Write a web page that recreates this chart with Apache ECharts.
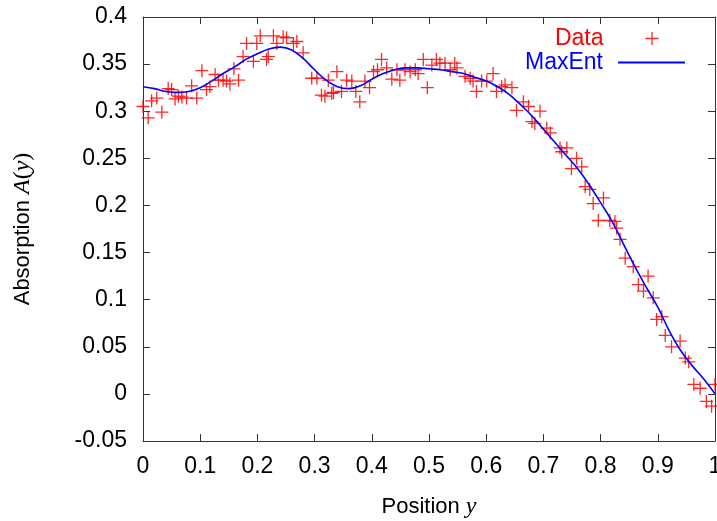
<!DOCTYPE html>
<html><head><meta charset="utf-8">
<script src="https://cdn.jsdelivr.net/npm/echarts@6/dist/echarts.min.js"></script>
<style>html,body{margin:0;padding:0;background:#fff}#c{width:717px;height:521px}</style>
</head><body><div id="c"></div>
<script>
// Measured data points (position y, absorption A)
const dataX = [0.000,0.009,0.015,0.024,0.033,0.044,0.050,0.056,0.062,0.068,0.076,0.085,0.094,0.103,0.111,0.117,0.126,0.132,0.140,0.146,0.152,0.159,0.167,0.175,0.181,0.193,0.199,0.205,0.216,0.219,0.228,0.234,0.245,0.251,0.263,0.269,0.280,0.295,0.304,0.312,0.318,0.324,0.330,0.333,0.339,0.347,0.356,0.365,0.372,0.379,0.388,0.396,0.403,0.410,0.417,0.426,0.435,0.444,0.449,0.458,0.467,0.476,0.481,0.490,0.497,0.505,0.513,0.519,0.528,0.537,0.545,0.549,0.563,0.572,0.577,0.583,0.592,0.601,0.612,0.618,0.627,0.633,0.645,0.653,0.665,0.674,0.680,0.685,0.694,0.706,0.712,0.729,0.732,0.741,0.749,0.758,0.767,0.773,0.781,0.787,0.796,0.805,0.816,0.825,0.828,0.834,0.843,0.857,0.866,0.875,0.883,0.892,0.898,0.907,0.913,0.924,0.939,0.948,0.954,0.963,0.974,0.985,0.994,1.000];
const dataY = [0.305,0.293,0.311,0.314,0.299,0.324,0.323,0.313,0.316,0.315,0.314,0.327,0.314,0.343,0.323,0.326,0.339,0.333,0.333,0.332,0.329,0.345,0.333,0.358,0.372,0.353,0.372,0.380,0.355,0.358,0.380,0.372,0.379,0.378,0.372,0.374,0.362,0.335,0.335,0.317,0.316,0.333,0.319,0.320,0.342,0.321,0.333,0.332,0.321,0.310,0.332,0.325,0.342,0.344,0.355,0.346,0.334,0.344,0.333,0.344,0.342,0.344,0.340,0.355,0.325,0.349,0.355,0.351,0.351,0.344,0.351,0.346,0.337,0.335,0.332,0.321,0.332,0.332,0.340,0.321,0.326,0.328,0.325,0.301,0.310,0.305,0.289,0.287,0.300,0.282,0.277,0.261,0.257,0.261,0.239,0.250,0.241,0.220,0.217,0.202,0.184,0.208,0.184,0.183,0.176,0.164,0.144,0.135,0.116,0.109,0.125,0.102,0.079,0.082,0.062,0.050,0.056,0.038,0.034,0.010,0.006,-0.008,-0.013,0.010];
// MaxEnt reconstruction curve
const fitX = [0,0.02,0.04,0.06,0.08,0.10,0.12,0.14,0.16,0.18,0.20,0.22,0.24,0.26,0.28,0.30,0.32,0.34,0.36,0.38,0.40,0.42,0.44,0.46,0.48,0.50,0.52,0.54,0.56,0.58,0.60,0.62,0.64,0.66,0.68,0.70,0.72,0.74,0.76,0.78,0.80,0.82,0.84,0.86,0.88,0.90,0.92,0.94,0.96,0.98,1.00];
const fitY = [0.326,0.324,0.321,0.320,0.321,0.325,0.332,0.340,0.347,0.355,0.361,0.366,0.368,0.365,0.356,0.344,0.333,0.326,0.324,0.327,0.334,0.340,0.344,0.346,0.346,0.345,0.344,0.342,0.340,0.336,0.332,0.326,0.318,0.307,0.295,0.281,0.267,0.253,0.239,0.222,0.203,0.183,0.159,0.135,0.113,0.092,0.067,0.046,0.030,0.016,0.000];
const xTicks = [0,0.1,0.2,0.3,0.4,0.5,0.6,0.7,0.8,0.9,1];
const yTicks = [-0.05,0,0.05,0.1,0.15,0.2,0.25,0.3,0.35,0.4];

const FONT = 'Liberation Sans';
const axisCol = '#333';
const plus = 'path://M4.5,0h1v4.5h4.5v1h-4.5v4.5h-1v-4.5h-4.5v-1h4.5z';
const fmt = v => String(+v.toFixed(2));

const chart = echarts.init(document.getElementById('c'));
const xBase = {type:'value', min:xTicks[0], max:xTicks[xTicks.length-1], interval:0.1, splitLine:{show:false},
  axisLine:{show:true,onZero:false,lineStyle:{color:axisCol,width:1}}, axisTick:{inside:true,length:7,lineStyle:{color:axisCol}}};
const yBase = {type:'value', min:yTicks[0], max:yTicks[yTicks.length-1], interval:0.05, splitLine:{show:false},
  axisLine:{show:true,onZero:false,lineStyle:{color:axisCol,width:1}}, axisTick:{inside:true,length:7,lineStyle:{color:axisCol}}};
chart.setOption({
  animation:false,
  backgroundColor:'#fff',
  grid:{left:143,right:2,top:17,bottom:80,containLabel:false,outerBoundsMode:'none'},
  xAxis:[
    Object.assign({}, xBase, {position:'bottom',
      axisLabel:{margin:14,fontSize:23,color:'#000',fontFamily:FONT,formatter:fmt},
      name:'Position {i|y}', nameLocation:'middle', nameGap:54,
      nameTextStyle:{fontSize:22,color:'#000',fontFamily:FONT,
        rich:{i:{fontSize:24,fontStyle:'italic',fontFamily:'Liberation Serif',color:'#000'}}}}),
    Object.assign({}, xBase, {position:'top', axisLabel:{show:false}})
  ],
  yAxis:[
    Object.assign({}, yBase, {position:'left',
      axisLabel:{margin:16,fontSize:23,color:'#000',fontFamily:FONT,formatter:fmt},
      name:'Absorption {i|A}{p|(}{i|y}{p|)}', nameLocation:'middle', nameGap:108, nameRotate:90,
      nameTextStyle:{fontSize:22,color:'#000',fontFamily:FONT,
        rich:{i:{fontSize:24,fontStyle:'italic',fontFamily:'Liberation Serif',color:'#000'},
              p:{fontSize:24,fontFamily:'Liberation Serif',color:'#000'}}}}),
    Object.assign({}, yBase, {position:'right', axisLabel:{show:false}})
  ],
  legend:[
    {data:[{name:'Data', icon:plus}], right:53.5, top:22, align:'right', itemWidth:13, itemHeight:13,
     textStyle:{fontSize:23,color:'#ff0000',fontFamily:FONT,padding:[0,37,0,0]}},
    {data:[{name:'MaxEnt', icon:'rect'}], right:27, top:46, align:'right', itemWidth:67, itemHeight:2,
     textStyle:{fontSize:23,color:'#0000ff',fontFamily:FONT,padding:[0,10,0,0]}}
  ],
  series:[
    {name:'Data', type:'scatter', symbol:plus, symbolSize:13,
     itemStyle:{color:'#ff0000', opacity:0.85},
     data:dataX.map((x,i)=>[x,dataY[i]])},
    {name:'MaxEnt', type:'line', showSymbol:false, smooth:0.4, symbol:'none',
     lineStyle:{color:'#0000ff',width:1.6}, itemStyle:{color:'#0000ff'},
     data:fitX.map((x,i)=>[x,fitY[i]]), z:3}
  ]
});
</script></body></html>
